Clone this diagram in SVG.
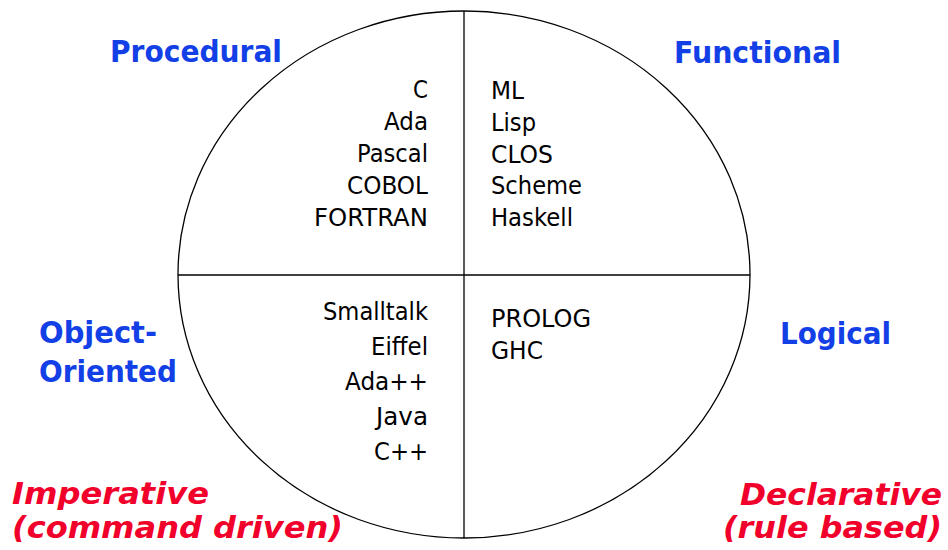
<svg xmlns="http://www.w3.org/2000/svg" width="948" height="550" viewBox="0 0 948 550">
<style>
.lang{font-family:"DejaVu Sans","Liberation Sans",sans-serif;font-size:25px;fill:#000}
.end{text-anchor:end}
.cat{font-family:"DejaVu Sans","Liberation Sans",sans-serif;font-size:30px;font-weight:bold;fill:#1240E6}
.kind{font-family:"DejaVu Sans","Liberation Sans",sans-serif;font-size:30px;font-weight:bold;font-style:italic;fill:#F0002A}
.ln{stroke:#000;stroke-width:1.3;fill:none}
</style>
<rect width="948" height="550" fill="#fff"/>
<g id="connectors">
<ellipse class="ln" cx="464" cy="274.5" rx="286" ry="263.5"/>
<line class="ln" x1="464" y1="11" x2="464" y2="538"/>
<line class="ln" x1="178" y1="275" x2="750" y2="275"/>
</g>
<g id="procedural">
<text class="cat" x="110" y="62" textLength="172" lengthAdjust="spacingAndGlyphs">Procedural</text>
<text class="lang end" x="428" y="98" textLength="15" lengthAdjust="spacingAndGlyphs">C</text>
<text class="lang end" x="428" y="130" textLength="44" lengthAdjust="spacingAndGlyphs">Ada</text>
<text class="lang end" x="428" y="162" textLength="71" lengthAdjust="spacingAndGlyphs">Pascal</text>
<text class="lang end" x="428" y="194" textLength="81" lengthAdjust="spacingAndGlyphs">COBOL</text>
<text class="lang end" x="428" y="226" textLength="114" lengthAdjust="spacingAndGlyphs">FORTRAN</text>
</g>
<g id="functional">
<text class="cat" x="674" y="63" textLength="167" lengthAdjust="spacingAndGlyphs">Functional</text>
<text class="lang" x="491" y="99" textLength="33" lengthAdjust="spacingAndGlyphs">ML</text>
<text class="lang" x="491" y="131" textLength="45" lengthAdjust="spacingAndGlyphs">Lisp</text>
<text class="lang" x="491" y="163" textLength="62" lengthAdjust="spacingAndGlyphs">CLOS</text>
<text class="lang" x="491" y="194" textLength="91" lengthAdjust="spacingAndGlyphs">Scheme</text>
<text class="lang" x="491" y="226" textLength="82" lengthAdjust="spacingAndGlyphs">Haskell</text>
</g>
<g id="object-oriented">
<text class="cat" x="39" y="343" textLength="118" lengthAdjust="spacingAndGlyphs">Object-</text>
<text class="cat" x="39" y="382" textLength="138" lengthAdjust="spacingAndGlyphs">Oriented</text>
<text class="lang end" x="428" y="320" textLength="105" lengthAdjust="spacingAndGlyphs">Smalltalk</text>
<text class="lang end" x="428" y="355" textLength="57" lengthAdjust="spacingAndGlyphs">Eiffel</text>
<text class="lang end" x="428" y="390" textLength="83" lengthAdjust="spacingAndGlyphs">Ada++</text>
<text class="lang end" x="428" y="425" textLength="52" lengthAdjust="spacingAndGlyphs">Java</text>
<text class="lang end" x="428" y="460" textLength="54" lengthAdjust="spacingAndGlyphs">C++</text>
</g>
<g id="logical">
<text class="cat" x="780" y="344" textLength="111" lengthAdjust="spacingAndGlyphs">Logical</text>
<text class="lang" x="491" y="327" textLength="100" lengthAdjust="spacingAndGlyphs">PROLOG</text>
<text class="lang" x="491" y="359" textLength="52" lengthAdjust="spacingAndGlyphs">GHC</text>
</g>
<g id="imperative">
<text class="kind" x="12" y="504" textLength="197" lengthAdjust="spacingAndGlyphs">Imperative</text>
<text class="kind" x="12" y="538" textLength="331" lengthAdjust="spacingAndGlyphs">(command driven)</text>
</g>
<g id="declarative">
<text class="kind" x="740" y="505" textLength="202" lengthAdjust="spacingAndGlyphs">Declarative</text>
<text class="kind" x="723" y="538" textLength="219" lengthAdjust="spacingAndGlyphs">(rule based)</text>
</g>
</svg>
